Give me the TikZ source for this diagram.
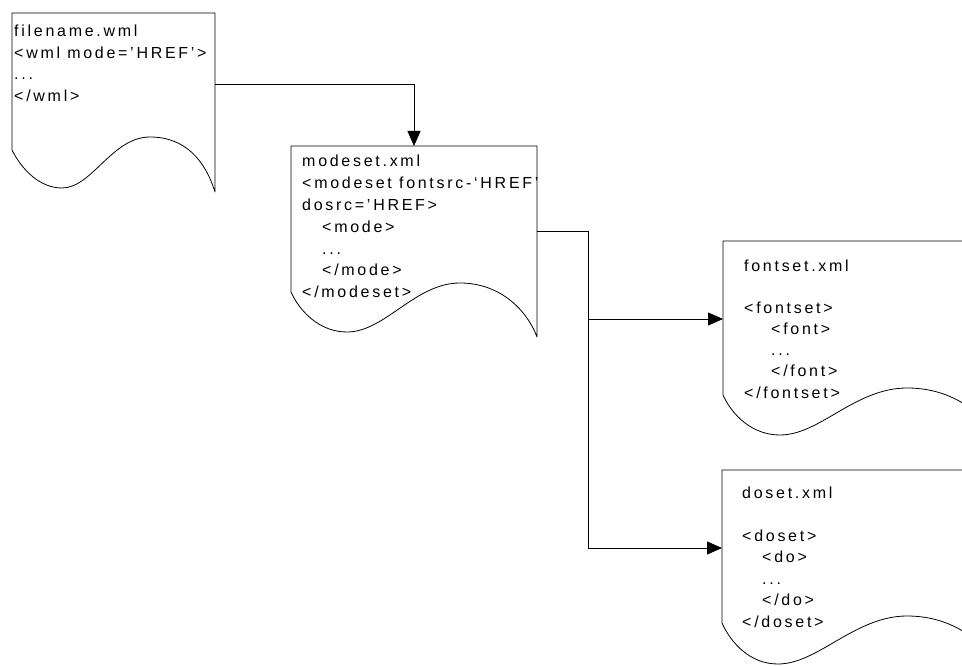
\documentclass[tikz,border=0pt]{standalone}
\usepackage{fontspec}
\setmainfont{Liberation Sans}[LetterSpace=17]
\usetikzlibrary{arrows.meta}
\begin{document}
\begin{tikzpicture}[x=1pt,y=-1pt,
  docline/.style={line width=0.8pt, line join=round},
  body/.style={inner sep=0pt, outer sep=0pt, draw=none},
  flow/.style={line width=0.8pt},
  flowarrow/.style={flow, -{Triangle[length=15pt,width=13pt]}},
  listing/.style={anchor=base west, inner sep=0pt}]
\useasboundingbox (0,0) rectangle (962,666);
\clip (0,0) rectangle (962,666);

% document outlines with wavy bottoms
\draw[docline] (12,150) -- (12,13) -- (215,13) -- (215,192)
  .. controls (205,160) and (185,137) .. (150,137)
  .. controls (112,137) and (92,188) .. (62,188)
  .. controls (40,188) and (22,170) .. (12,150);
\draw[docline] (291,292) -- (291,146) -- (537,146) -- (537,337)
  .. controls (527,310) and (500,283) .. (460,283)
  .. controls (415,283) and (385,332) .. (347,332)
  .. controls (320,332) and (300,312) .. (291,292);
\draw[docline] (723,395) -- (723,241) -- (1000,241) -- (1000,440)
  .. controls (980,410) and (950,388) .. (907,388)
  .. controls (855,388) and (820,435) .. (780,435)
  .. controls (752,435) and (732,415) .. (723,395);
\draw[docline] (722,623) -- (722,470) -- (1000,470) -- (1000,668)
  .. controls (980,638) and (950,616) .. (907,616)
  .. controls (855,616) and (818,664) .. (778,664)
  .. controls (750,664) and (731,643) .. (722,623);

% document bodies used as connector targets
\node[body, minimum width=203pt, minimum height=137pt] (wml) at (113.5,81.5) {};
\node[body, minimum width=246pt, minimum height=146pt] (modeset) at (414,219) {};
\node[body, minimum width=277pt, minimum height=156pt] (fontset) at (861.5,319) {};
\node[body, minimum width=278pt, minimum height=156pt] (doset) at (861,548) {};

% file contents
\node[listing, font=\fontsize{16}{21.5}\selectfont] (wmltext) at (14,37) {\begin{tabular}[t]{@{}l@{}}
filename.wml\\
<wml mode='HREF'>\\
...\\
</wml>
\end{tabular}};
\node[listing, font=\fontsize{16}{21.8}\selectfont] (modesettext) at (302,167) {\begin{tabular}[t]{@{}l@{}}
modeset.xml\\
<modeset fontsrc-‘HREF’\\
dosrc='HREF>\\
\hspace*{20pt}<mode>\\
\hspace*{20pt}...\\
\hspace*{20pt}</mode>\\
</modeset>
\end{tabular}};
\node[listing, font=\fontsize{16}{21.2}\selectfont] (fontsettext) at (744,271) {\begin{tabular}[t]{@{}l@{}}
fontset.xml\\
\\
<fontset>\\
\hspace*{27pt}<font>\\
\hspace*{27pt}...\\
\hspace*{27pt}</font>\\
</fontset>
\end{tabular}};
\node[listing, font=\fontsize{16}{21.5}\selectfont] (dosettext) at (742,498) {\begin{tabular}[t]{@{}l@{}}
doset.xml\\
\\
<doset>\\
\hspace*{20pt}<do>\\
\hspace*{20pt}...\\
\hspace*{20pt}</do>\\
</doset>
\end{tabular}};

% connectors
\coordinate (split) at (588,319);
\draw[flowarrow] (wml.east) ++(0,2.5) -| (modeset.north);
\draw[flow] (modeset.east) ++(0,12) -| (split);
\draw[flowarrow] (split) -- (fontset.west);
\draw[flowarrow] (split) |- (doset.west);
\end{tikzpicture}
\end{document}
